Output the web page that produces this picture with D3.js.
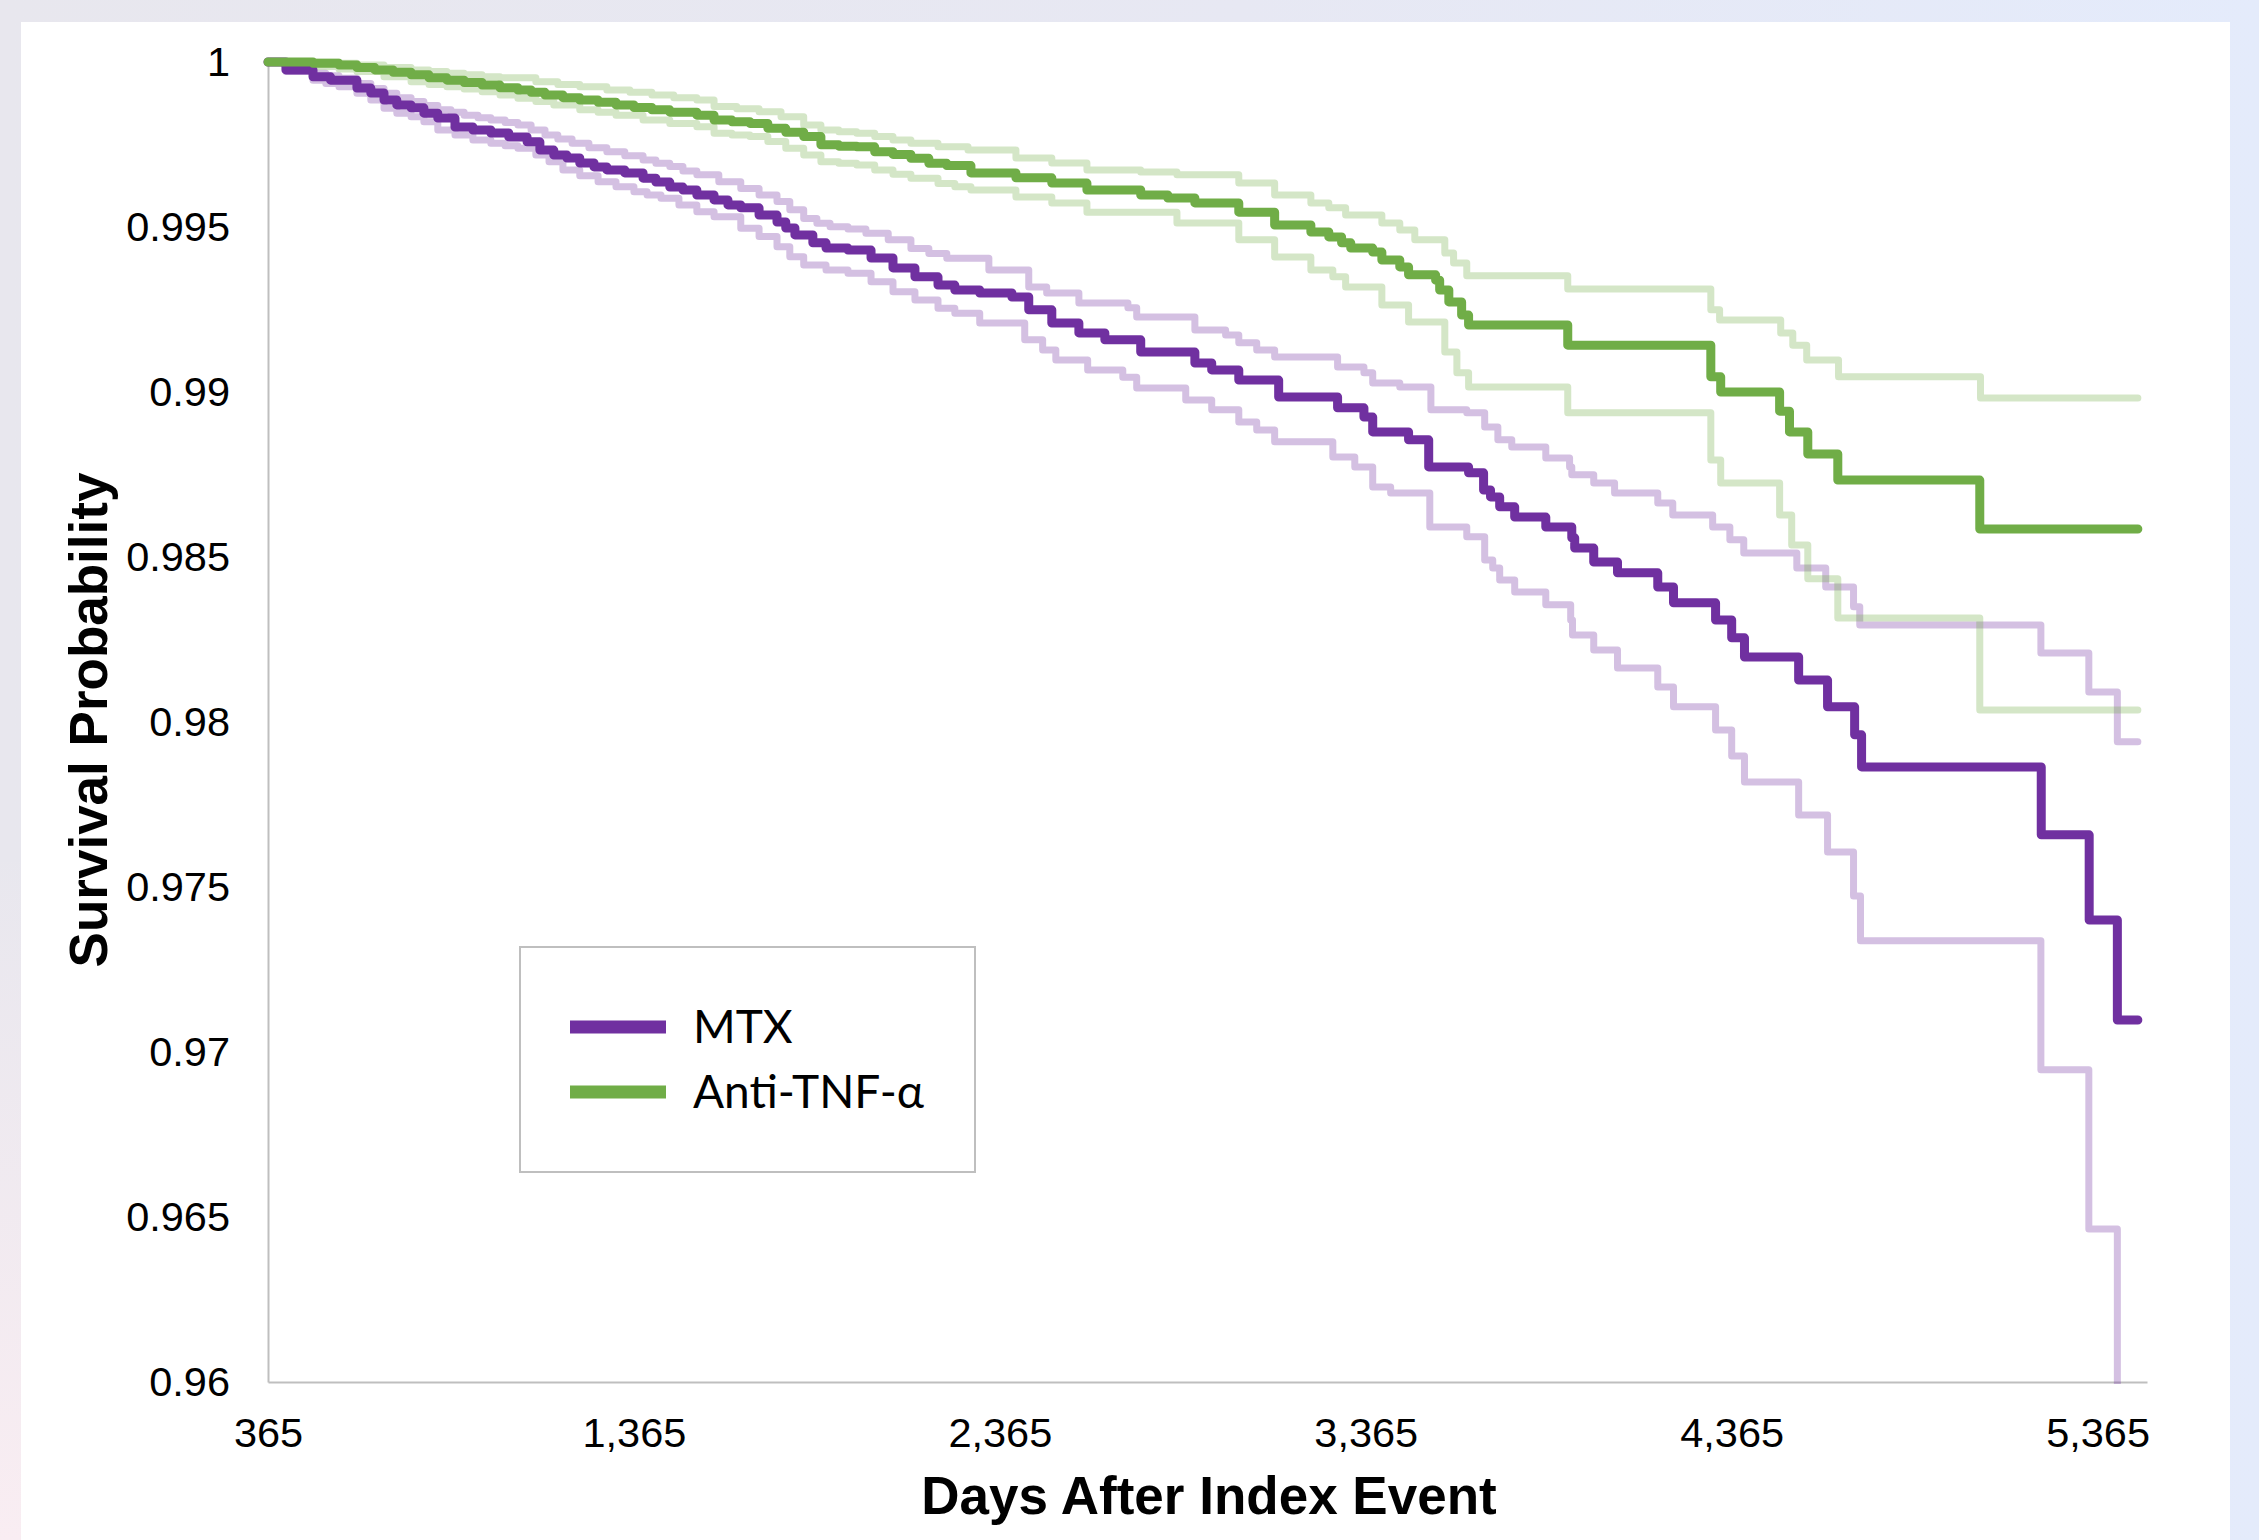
<!DOCTYPE html>
<html>
<head>
<meta charset="utf-8">
<script src="https://cdn.jsdelivr.net/npm/d3@7"></script>
<style>
  html, body { margin: 0; padding: 0; }
  body {
    width: 2259px; height: 1540px; overflow: hidden;
    background:
      linear-gradient(to bottom, rgba(249,237,242,0) 55%, rgba(249,237,242,1) 100%) left top / 40px 100% no-repeat,
      linear-gradient(to right, #e8e7ee 0%, #e7e8f3 55%, #e4ebfb 100%);
  }
  svg { display: block; }
</style>
</head>
<body>
<svg id="chart" width="2259" height="1540"></svg>
<script>
// ---- data (day, survival probability) ----
const xTicks = [365, 1365, 2365, 3365, 4365, 5365];
const yTicks = [0.96, 0.965, 0.97, 0.975, 0.98, 0.985, 0.99, 0.995, 1];
const seriesNames = ["MTX", "Anti-TNF-\u03b1"];

const mtx = [[365,1],[414,0.99976],[488,0.99955],[536,0.99945],[608,0.99921],[646,0.99906],[682,0.99885],[717,0.9987],[756,0.99861],[791,0.99845],[829,0.9983],[876,0.99803],[925,0.99794],[974,0.99785],[1023,0.99773],[1073,0.99758],[1108,0.99733],[1146,0.99718],[1182,0.99709],[1217,0.99694],[1256,0.99682],[1291,0.99673],[1340,0.99664],[1390,0.99648],[1425,0.99636],[1463,0.99621],[1499,0.99612],[1537,0.99597],[1584,0.99582],[1622,0.99567],[1657,0.99558],[1707,0.99536],[1756,0.99515],[1780,0.99497],[1805,0.99476],[1854,0.99452],[1890,0.99436],[1950,0.9943],[2013,0.99406],[2073,0.99376],[2133,0.99349],[2196,0.99324],[2242,0.99309],[2310,0.993],[2398,0.99288],[2444,0.99249],[2507,0.99209],[2581,0.99179],[2652,0.99158],[2750,0.99121],[2898,0.99088],[2944,0.99067],[3018,0.99036],[3127,0.98985],[3288,0.98952],[3360,0.98924],[3384,0.98879],[3482,0.98855],[3537,0.98773],[3646,0.98755],[3687,0.98703],[3706,0.98682],[3731,0.98652],[3772,0.98621],[3857,0.98591],[3928,0.98558],[3936,0.98527],[3988,0.98485],[4053,0.98452],[4163,0.98409],[4206,0.98361],[4321,0.98309],[4365,0.98255],[4400,0.98197],[4548,0.98127],[4627,0.98046],[4701,0.97961],[4720,0.97864],[5211,0.97658],[5342,0.974],[5419,0.97097],[5475,0.97097]];

const mtxLower = [[365,1],[414,0.99971],[488,0.99945],[523,0.99935],[559,0.99925],[608,0.99905],[646,0.99885],[682,0.9986],[717,0.99845],[756,0.99834],[791,0.99819],[829,0.99794],[876,0.99779],[925,0.99764],[974,0.99754],[1013,0.99746],[1048,0.99739],[1097,0.99718],[1133,0.99698],[1171,0.99673],[1217,0.99655],[1267,0.99637],[1316,0.99622],[1365,0.99607],[1401,0.99597],[1439,0.99587],[1488,0.99567],[1537,0.99546],[1584,0.99531],[1657,0.99496],[1707,0.99471],[1756,0.9944],[1791,0.9941],[1829,0.99385],[1890,0.9937],[1950,0.9936],[2013,0.99334],[2073,0.99304],[2133,0.99279],[2196,0.99254],[2242,0.99239],[2310,0.99209],[2433,0.99158],[2482,0.99127],[2518,0.99097],[2605,0.99067],[2701,0.99045],[2739,0.99012],[2873,0.98976],[2944,0.98946],[3018,0.98909],[3067,0.98885],[3116,0.98849],[3275,0.98803],[3335,0.98773],[3384,0.98712],[3433,0.98694],[3540,0.98591],[3641,0.98561],[3690,0.98491],[3712,0.98467],[3731,0.9843],[3772,0.98394],[3857,0.98355],[3925,0.98309],[3930,0.98264],[3988,0.98218],[4053,0.98164],[4163,0.98106],[4206,0.98046],[4321,0.97976],[4365,0.97897],[4400,0.97818],[4548,0.97718],[4627,0.97606],[4698,0.97473],[4717,0.97337],[5210,0.96946],[5341,0.96464],[5419,0.9585],[5475,0.9585]];

const mtxUpper = [[365,1],[414,0.99981],[488,0.99966],[523,0.99958],[559,0.99951],[608,0.99935],[646,0.9992],[682,0.99905],[717,0.99892],[756,0.9988],[791,0.99868],[829,0.99855],[865,0.99848],[901,0.99839],[939,0.99831],[974,0.99824],[1013,0.99817],[1048,0.99809],[1084,0.99794],[1122,0.99779],[1157,0.99767],[1196,0.99754],[1242,0.9974],[1291,0.99728],[1340,0.99716],[1390,0.99703],[1425,0.99693],[1463,0.99683],[1499,0.9967],[1537,0.99658],[1597,0.99637],[1657,0.99617],[1707,0.99597],[1756,0.99577],[1791,0.99552],[1829,0.99526],[1865,0.99511],[1901,0.99501],[1950,0.99494],[1999,0.99481],[2060,0.99461],[2122,0.99435],[2171,0.9942],[2220,0.99405],[2335,0.9937],[2444,0.99318],[2493,0.993],[2581,0.9927],[2715,0.99255],[2739,0.99227],[2898,0.99188],[2982,0.99173],[3018,0.99149],[3067,0.99127],[3116,0.99106],[3288,0.99076],[3360,0.99058],[3384,0.99027],[3458,0.99015],[3543,0.98946],[3641,0.98937],[3690,0.98894],[3726,0.98855],[3764,0.98833],[3857,0.988],[3922,0.98773],[3928,0.98749],[3988,0.98724],[4045,0.98694],[4163,0.98664],[4204,0.98627],[4313,0.98591],[4360,0.98552],[4398,0.98512],[4543,0.98467],[4622,0.98409],[4698,0.98349],[4715,0.98294],[5210,0.98209],[5341,0.98091],[5419,0.9794],[5475,0.9794]];

const tnf = [[365,1],[488,0.99996],[559,0.99991],[608,0.99983],[657,0.99976],[707,0.99969],[756,0.99961],[805,0.99952],[854,0.99945],[901,0.99938],[950,0.9993],[999,0.99922],[1048,0.99915],[1084,0.99908],[1122,0.999],[1171,0.99892],[1217,0.99885],[1267,0.99878],[1316,0.9987],[1365,0.99862],[1414,0.99855],[1463,0.99848],[1537,0.99839],[1584,0.99824],[1633,0.99819],[1682,0.99814],[1731,0.99799],[1780,0.99787],[1829,0.99774],[1876,0.99749],[1925,0.99745],[1974,0.99743],[2023,0.99728],[2073,0.9972],[2122,0.99708],[2171,0.99693],[2220,0.99686],[2286,0.99664],[2409,0.99649],[2507,0.99633],[2603,0.99612],[2750,0.99597],[2824,0.99588],[2898,0.99573],[3018,0.99545],[3116,0.99506],[3215,0.99485],[3264,0.9947],[3299,0.99452],[3324,0.99436],[3384,0.99424],[3409,0.994],[3458,0.99379],[3482,0.99355],[3556,0.99339],[3567,0.99309],[3592,0.99273],[3627,0.99233],[3646,0.99203],[3917,0.99142],[4308,0.99046],[4335,0.99],[4496,0.98942],[4523,0.98879],[4573,0.98812],[4655,0.98733],[5043,0.98585],[5475,0.98585]];

const tnfUpper = [[365,1],[559,0.99996],[608,0.99991],[682,0.99983],[756,0.99976],[805,0.99971],[854,0.99966],[901,0.99961],[950,0.99955],[999,0.99952],[1097,0.9994],[1157,0.99932],[1217,0.99925],[1291,0.99915],[1354,0.99908],[1414,0.999],[1474,0.99892],[1537,0.99885],[1584,0.99865],[1646,0.99858],[1707,0.99849],[1767,0.99834],[1829,0.99809],[1876,0.99794],[1925,0.99789],[1974,0.99784],[2023,0.99774],[2073,0.99764],[2122,0.99754],[2196,0.99743],[2278,0.99733],[2409,0.99709],[2507,0.99694],[2603,0.99673],[2750,0.99667],[2849,0.99658],[3018,0.99633],[3116,0.99597],[3215,0.99573],[3264,0.99558],[3310,0.99536],[3409,0.99512],[3458,0.99491],[3499,0.99461],[3581,0.99421],[3605,0.99391],[3641,0.99352],[3917,0.99312],[4308,0.99249],[4332,0.99218],[4499,0.99179],[4532,0.99142],[4570,0.99097],[4657,0.99046],[5045,0.98982],[5475,0.98982]];

const tnfLower = [[365,1],[414,0.99993],[488,0.99986],[559,0.99979],[608,0.99971],[682,0.99955],[756,0.9994],[805,0.99932],[854,0.99925],[901,0.99918],[950,0.9991],[999,0.999],[1048,0.9989],[1097,0.9988],[1146,0.9987],[1217,0.99855],[1267,0.99848],[1316,0.99839],[1390,0.99824],[1463,0.99814],[1537,0.99804],[1584,0.99784],[1633,0.99779],[1682,0.99774],[1731,0.99759],[1780,0.99739],[1829,0.99718],[1876,0.99698],[1925,0.99693],[1974,0.99688],[2023,0.99673],[2073,0.9966],[2122,0.99648],[2196,0.99632],[2242,0.99622],[2286,0.99612],[2409,0.99591],[2507,0.99573],[2603,0.99545],[2849,0.99512],[3018,0.99461],[3116,0.99409],[3215,0.9937],[3275,0.99349],[3310,0.99318],[3409,0.99264],[3482,0.99212],[3581,0.99121],[3614,0.99058],[3646,0.99015],[3917,0.98937],[4308,0.98794],[4335,0.98724],[4496,0.98627],[4529,0.98536],[4573,0.98434],[4655,0.98315],[5043,0.98036],[5475,0.98036]];

// ---- layout ----
const W = 2259, H = 1540;
const plot = { left: 268, right: 2147, top: 62, bottom: 1382 };
const purple = "#7030a0", green = "#70ad47";
const tickFont = "'Liberation Sans', Arial, sans-serif";

const svg = d3.select("#chart");

// white chart panel
svg.append("rect").attr("x", 21).attr("y", 22).attr("width", 2209).attr("height", 1530).attr("fill", "#ffffff");

const x = d3.scaleLinear().domain([365, 5500]).range([plot.left, plot.right]);
const y = d3.scaleLinear().domain([0.96, 1]).range([plot.bottom, plot.top]);

// clip (only the bottom edge of the plot cuts the lines)
svg.append("defs").append("clipPath").attr("id", "clip")
  .append("rect").attr("x", 0).attr("y", 0).attr("width", W).attr("height", plot.bottom + 2);

// axes
const fmtY = d => (+d.toFixed(3)).toString();
const yAxis = svg.append("g").attr("transform", `translate(${plot.left},0)`)
  .call(d3.axisLeft(y).tickValues(yTicks).tickFormat(fmtY).tickSize(0).tickSizeOuter(0).tickPadding(38));
const xAxis = svg.append("g").attr("transform", `translate(0,${plot.bottom})`)
  .call(d3.axisBottom(x).tickValues(xTicks).tickFormat(d3.format(",")).tickSize(0).tickSizeOuter(0).tickPadding(36));

[xAxis, yAxis].forEach(a => {
  a.select(".domain").attr("stroke", "#bfbfbf").attr("stroke-width", 2);
  a.selectAll("text").attr("font-family", tickFont).attr("font-size", 41.5).attr("fill", "#000");
});

// lines
const line = d3.line().x(d => x(d[0])).y(d => y(d[1])).curve(d3.curveStepAfter);
const g = svg.append("g").attr("clip-path", "url(#clip)");
const series = [
  { data: mtxLower, color: purple, w: 7, op: 0.3 },
  { data: mtxUpper, color: purple, w: 7, op: 0.3 },
  { data: tnfLower, color: green, w: 7, op: 0.3 },
  { data: tnfUpper, color: green, w: 7, op: 0.3 },
  { data: mtx, color: purple, w: 9, op: 1 },
  { data: tnf, color: green, w: 9, op: 1 }
];
series.forEach(s => {
  g.append("path").datum(s.data).attr("d", line)
    .attr("fill", "none").attr("stroke", s.color).attr("stroke-width", s.w)
    .attr("stroke-opacity", s.op).attr("stroke-linejoin", "round").attr("stroke-linecap", "round");
});

// axis titles
svg.append("text").attr("x", 1209).attr("y", 1514).attr("text-anchor", "middle")
  .attr("font-family", tickFont).attr("font-weight", "bold").attr("font-size", 53)
  .text("Days After Index Event");
svg.append("text").attr("transform", "translate(107,720) rotate(-90)").attr("text-anchor", "middle")
  .attr("font-family", tickFont).attr("font-weight", "bold").attr("font-size", 53)
  .text("Survival Probability");

// legend
const leg = svg.append("g");
leg.append("rect").attr("x", 520).attr("y", 947).attr("width", 455).attr("height", 225)
  .attr("fill", "#fff").attr("stroke", "#bfbfbf").attr("stroke-width", 2);
[purple, green].forEach((c, i) => {
  const cy = 1027 + i * 65;
  leg.append("line").attr("x1", 570).attr("x2", 666).attr("y1", cy).attr("y2", cy)
    .attr("stroke", c).attr("stroke-width", 13);
  leg.append("text").attr("x", 693).attr("y", cy + 16)
    .attr("font-family", "Lato, 'Open Sans', sans-serif").attr("font-size", 46).attr("fill", "#000")
    .text(seriesNames[i]);
});
</script>
</body>
</html>
